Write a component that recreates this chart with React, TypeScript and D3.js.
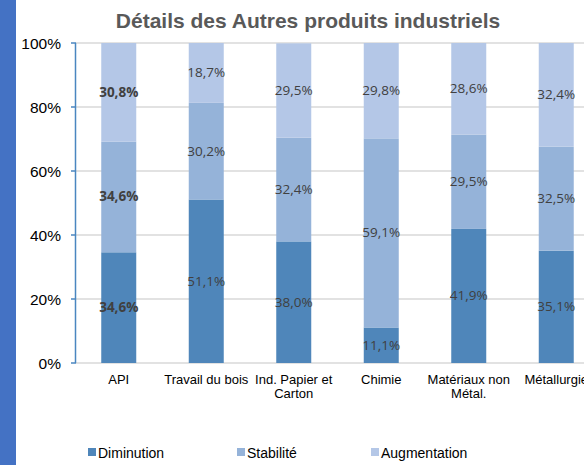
import React from 'react';
import * as d3 from 'd3';

// chart data
const categories = ['API', 'Travail du bois', 'Ind. Papier et Carton', 'Chimie', 'Matériaux non Métal.', 'Métallurgie'];
const categoryLines = [['API'], ['Travail du bois'], ['Ind. Papier et', 'Carton'], ['Chimie'], ['Matériaux non', 'Métal.'], ['Métallurgie']];
const diminution = [34.6, 51.1, 38.0, 11.1, 41.9, 35.1];
const stabilite = [34.6, 30.2, 32.4, 59.1, 29.5, 32.5];
const augmentation = [30.8, 18.7, 29.5, 29.8, 28.6, 32.4];
const seriesNames = ['Diminution', 'Stabilité', 'Augmentation'];
const yTicks = [0, 20, 40, 60, 80, 100];
const boldCategories = ['API'];

const W = 584;
const H = 465;
const colors = ['#4f86ba', '#95b3d9', '#b4c7e7'];

const App = () => {
  const x = d3.scaleBand<string>().domain(categories).range([75, 600]).paddingInner(0.6).paddingOuter(0.3);
  const y = d3.scaleLinear().domain([0, 100]).range([363, 43]);

  const rows = categories.map((c, i) => ({ cat: c, Diminution: diminution[i], 'Stabilité': stabilite[i], Augmentation: augmentation[i] }));
  const stacked = d3.stack<any>().keys(seriesNames)(rows);
  const fmt = (v: number) => v.toFixed(1).replace('.', ',') + '%';

  const legendX = [88, 237, 371];

  return (
    <svg width={W} height={H} style={{ position: 'absolute', left: 0, top: 0, background: '#fff' }}>
      <rect x={0} y={0} width={16} height={H} fill="#4472c4" />
      <text x={308} y={28} textAnchor="middle" fontFamily="'Liberation Sans', Arial, sans-serif" fontWeight="bold" fontSize={21} fill="#595959">
        Détails des Autres produits industriels
      </text>
      {/* gridlines */}
      {yTicks.map(t => (
        <line key={t} x1={76} x2={W} y1={y(t)} y2={y(t)} stroke="#d9d9d9" strokeWidth={1.5} />
      ))}
      {/* bars */}
      {stacked.map((s, si) => (
        <g key={s.key} fill={colors[si]}>
          {s.map((d, i) => (
            <rect key={i} x={x(categories[i])} width={x.bandwidth()} y={y(d[1])} height={y(d[0]) - y(d[1])} />
          ))}
        </g>
      ))}
      {/* data labels */}
      {stacked.map((s, si) => (
        <g key={'l' + s.key}>
          {s.map((d, i) => (
            <text key={i} x={(x(categories[i]) as number) + x.bandwidth() / 2} y={y((d[0] + d[1]) / 2) + 4.5}
              textAnchor="middle" fontFamily="'Open Sans', 'Noto Sans', sans-serif" fontSize={13.5}
              fontWeight={boldCategories.includes(categories[i]) ? 'bold' : 'normal'} fill="#404040">
              {fmt(d[1] - d[0])}
            </text>
          ))}
        </g>
      ))}
      {/* y axis */}
      <line x1={75.5} x2={75.5} y1={y(100)} y2={y(0)} stroke="#4a86c0" strokeWidth={1.5} />
      {yTicks.map(t => (
        <g key={'t' + t}>
          <line x1={71} x2={76} y1={y(t)} y2={y(t)} stroke="#4a86c0" strokeWidth={1.5} />
          <text x={61} y={y(t) + 5.5} textAnchor="end" fontFamily="'Liberation Sans', Arial, sans-serif" fontSize={15.5} fill="#000">
            {t}%
          </text>
        </g>
      ))}
      {/* category labels */}
      {categoryLines.map((lines, i) => (
        <text key={'c' + i} x={(x(categories[i]) as number) + x.bandwidth() / 2} y={384} textAnchor="middle"
          fontFamily="'Liberation Sans', Arial, sans-serif" fontSize={13} fill="#000">
          {lines.map((ln, j) => (
            <tspan key={j} x={(x(categories[i]) as number) + x.bandwidth() / 2} dy={j === 0 ? 0 : 14}>{ln}</tspan>
          ))}
        </text>
      ))}
      {/* legend */}
      {seriesNames.map((n, i) => (
        <g key={'lg' + n}>
          <rect x={legendX[i]} y={448} width={8} height={8} fill={colors[i]} />
          <text x={legendX[i] + 10} y={457.5} fontFamily="'Liberation Sans', Arial, sans-serif" fontSize={14} fill="#000">{n}</text>
        </g>
      ))}
    </svg>
  );
};

export default App;
